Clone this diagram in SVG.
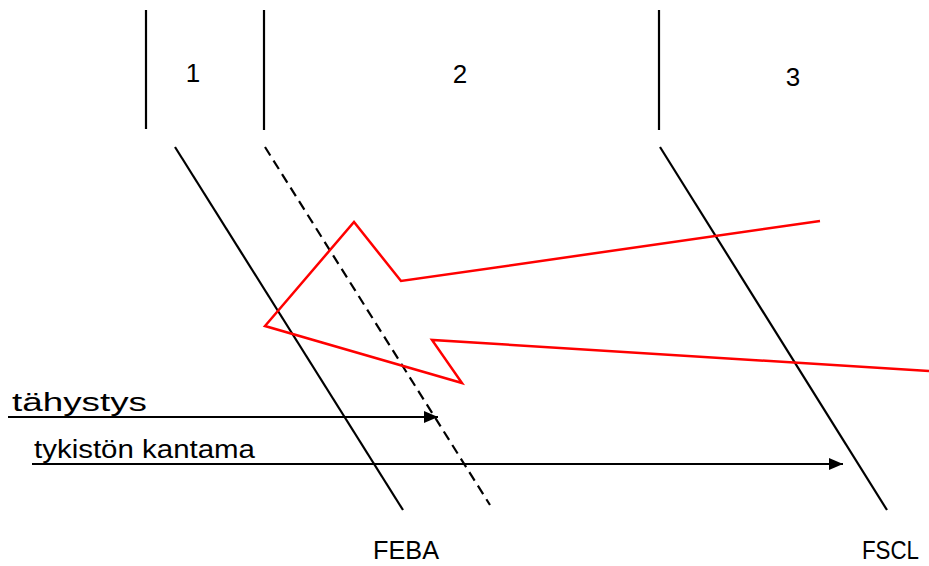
<svg xmlns="http://www.w3.org/2000/svg" width="929" height="566" viewBox="0 0 929 566">
<defs>
<style>
.ln{stroke:#000;stroke-width:2.2;fill:none}
.dash{stroke:#000;stroke-width:2.2;fill:none;stroke-dasharray:10 6}
.red{stroke:#ff0000;stroke-width:2.5;fill:none;stroke-linejoin:miter}
text{font-family:"Liberation Sans",Arial,sans-serif;font-size:26px;fill:#000}
</style>
<marker id="ah" markerWidth="14" markerHeight="12" refX="14" refY="6" orient="auto" markerUnits="userSpaceOnUse">
<path d="M0,0 L14,6 L0,12 Z" fill="#000"/>
</marker>
</defs>
<rect width="929" height="566" fill="#fff"/>
<g id="zones">
<line class="ln" x1="146" y1="10" x2="146" y2="129"/>
<line class="ln" x1="264" y1="10" x2="264" y2="130"/>
<line class="ln" x1="659" y1="10" x2="659" y2="130"/>
<text x="193" y="82" text-anchor="middle">1</text>
<text x="460" y="83" text-anchor="middle">2</text>
<text x="793" y="86" text-anchor="middle">3</text>
</g>
<g id="lines">
<line class="ln" x1="175" y1="147" x2="403" y2="510"/>
<line class="dash" x1="265" y1="147" x2="490" y2="505"/>
<line class="ln" x1="660" y1="147" x2="887" y2="510"/>
</g>
<g id="attack">
<polyline class="red" points="820,221 401,281 354,222 265,326 462,383 432,340 929,371"/>
</g>
<g id="connectors">
<line class="ln" x1="8" y1="417" x2="438" y2="417" marker-end="url(#ah)"/>
<line class="ln" x1="32" y1="464" x2="843" y2="464" marker-end="url(#ah)"/>
</g>
<g id="labels">
<text x="12" y="411" textLength="135" lengthAdjust="spacingAndGlyphs">tähystys</text>
<text x="34" y="458" textLength="221" lengthAdjust="spacingAndGlyphs">tykistön kantama</text>
<text x="373" y="559" textLength="66" lengthAdjust="spacingAndGlyphs">FEBA</text>
<text x="862" y="559" textLength="57" lengthAdjust="spacingAndGlyphs">FSCL</text>
</g>
</svg>
